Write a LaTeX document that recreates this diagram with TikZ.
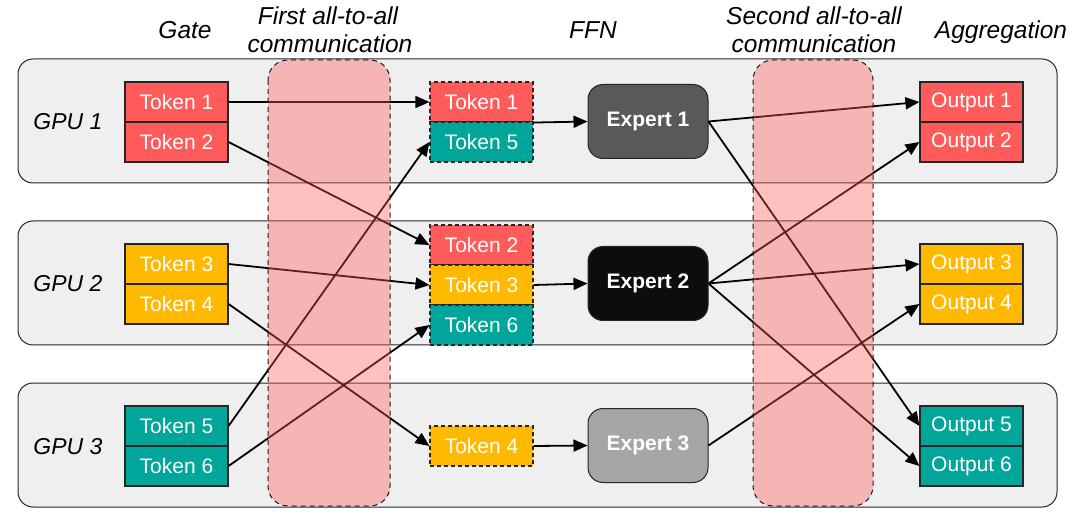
\documentclass[tikz,border=0pt]{standalone}
\usepackage{fontspec}
\setmainfont{Liberation Sans}
\usetikzlibrary{arrows.meta}
\definecolor{tred}{HTML}{FF5B5B}
\definecolor{tyel}{HTML}{FFB900}
\definecolor{tteal}{HTML}{00A69A}
\definecolor{gpufill}{HTML}{EFEFEF}
\definecolor{bandcol}{RGB}{255,87,87}
\definecolor{eone}{HTML}{595959}
\definecolor{etwo}{HTML}{0D0D0D}
\definecolor{ethree}{HTML}{A6A6A6}
\tikzset{
  gpubox/.style={draw=black!85, line width=1pt, fill=gpufill, rounded corners=15pt},
  tok/.style={draw=black!85, line width=1.1pt, minimum width=103pt, minimum height=40pt, inner sep=0pt, text=white, font=\fontsize{21}{23}\selectfont},
  dtok/.style={tok, dashed, dash pattern=on 4pt off 3pt},
  expert/.style={draw=black!85, line width=1pt, rounded corners=15pt, minimum width=120pt, minimum height=74pt, inner sep=0pt, text=white, font=\fontsize{21}{23}\selectfont\bfseries},
  hdr/.style={font=\fontsize{24.5}{28}\selectfont\itshape, anchor=base, inner sep=0pt},
  gpulbl/.style={font=\fontsize{23}{26}\selectfont\itshape, anchor=base, inner sep=0pt},
  conn/.style={line width=1.8pt, -{Triangle[length=14pt,width=12pt]}},
  band/.style={fill=bandcol, fill opacity=0.375, draw=none},
  bandline/.style={draw=black!90, line width=1pt, dash pattern=on 5pt off 4pt, rounded corners=20pt},
}
\begin{document}
\begin{tikzpicture}[x=1pt,y=-1pt]
\useasboundingbox (0,0) rectangle (1073,518);
% GPU boxes
\foreach \cy/\n in {121/1,283/2,445/3}{
  \draw[gpubox] (18,\cy-62) rectangle (1057,\cy+62);
  \node[gpulbl] (gpu\n) at (68,\cy+9) {GPU \n};
}
% headers
\node[hdr] (hgate) at (185,39) {Gate};
\node[hdr] (hfirsta) at (328,25) {First all-to-all};
\node[hdr] (hfirstb) at (330,53) {communication};
\node[hdr] (hffn) at (593,39) {FFN};
\node[hdr] (hseconda) at (814,25) {Second all-to-all};
\node[hdr] (hsecondb) at (814,53) {communication};
\node[hdr] (hagg) at (1001,39) {Aggregation};
% left tokens
\node[tok, fill=tred] (t1) at (176.5,102) {Token 1};
\node[tok, fill=tred] (t2) at (176.5,142) {Token 2};
\node[tok, fill=tyel] (t3) at (176.5,264) {Token 3};
\node[tok, fill=tyel] (t4) at (176.5,304) {Token 4};
\node[tok, fill=tteal] (t5) at (176.5,426) {Token 5};
\node[tok, fill=tteal] (t6) at (176.5,466) {Token 6};
% middle tokens
\node[dtok, fill=tred] (m1) at (481.5,102) {Token 1};
\node[dtok, fill=tteal] (m5) at (481.5,142) {Token 5};
\node[dtok, fill=tred] (m2) at (481.5,245) {Token 2};
\node[dtok, fill=tyel] (m3) at (481.5,285) {Token 3};
\node[dtok, fill=tteal] (m6) at (481.5,325) {Token 6};
\node[dtok, fill=tyel] (m4) at (481.5,446) {Token 4};
% experts
\node[expert, fill=eone] (e1) at (648,121.5) {Expert 1};
\node[expert, fill=etwo] (e2) at (648,283.5) {Expert 2};
\node[expert, fill=ethree] (e3) at (648,445.5) {Expert 3};
% outputs
\node[tok, fill=tred] (o1) at (971.5,102) {Output 1};
\node[tok, fill=tred] (o2) at (971.5,142) {Output 2};
\node[tok, fill=tyel] (o3) at (971.5,264) {Output 3};
\node[tok, fill=tyel] (o4) at (971.5,304) {Output 4};
\node[tok, fill=tteal] (o5) at (971.5,426) {Output 5};
\node[tok, fill=tteal] (o6) at (971.5,466) {Output 6};
% first all-to-all
\draw[conn] (t1.east) -- (m1.west);
\draw[conn] (t2.east) -- (m2.west);
\draw[conn] (t3.east) -- (m3.west);
\draw[conn] (t4.east) -- (m4.west);
\draw[conn] (t5.east) -- (m5.west);
\draw[conn] (t6.east) -- (m6.west);
% to experts
\draw[conn] (m1.south east) -- (e1.west);
\draw[conn] (m3.east) -- (e2.west);
\draw[conn] (m4.east) -- (e3.west);
% second all-to-all
\draw[conn] (e1.east) -- (o1.west);
\draw[conn] (e1.east) -- (o5.west);
\draw[conn] (e2.east) -- (o2.west);
\draw[conn] (e2.east) -- (o3.west);
\draw[conn] (e2.east) -- (o6.west);
\draw[conn] (e3.east) -- (o4.west);
% communication bands
\foreach \xa/\xb in {268/390,753/873}{
  \fill[band, rounded corners=20pt] (\xa,60) rectangle (\xb,506);
  \draw[bandline] (\xa,60) rectangle (\xb,506);
}
\end{tikzpicture}
\end{document}
